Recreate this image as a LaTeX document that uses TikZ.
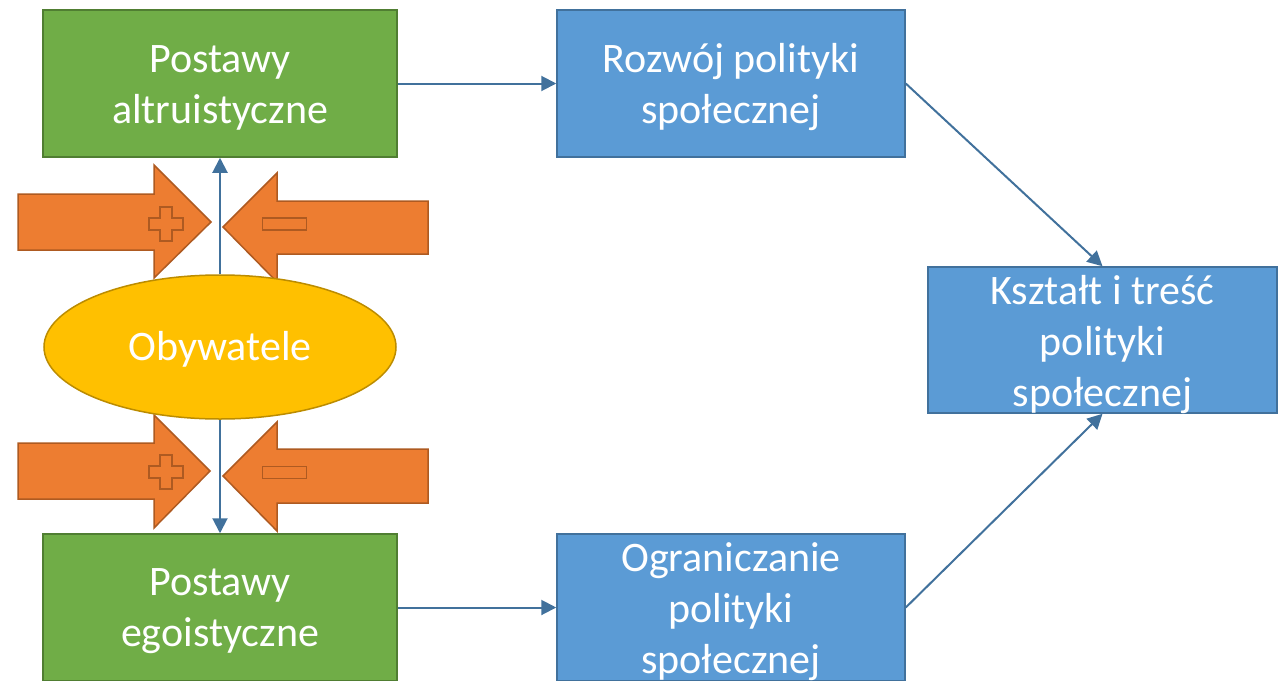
\documentclass[tikz,border=0pt]{standalone}
\usepackage{fontspec}
\setmainfont{Carlito}
\usetikzlibrary{arrows.meta,shapes.geometric}
\definecolor{grn}{HTML}{70AD47}
\definecolor{grnb}{HTML}{507E32}
\definecolor{blu}{HTML}{5B9BD5}
\definecolor{blub}{HTML}{41719C}
\definecolor{yel}{HTML}{FFC000}
\definecolor{yelb}{HTML}{BC8C00}
\definecolor{org}{HTML}{ED7D31}
\definecolor{orgb}{HTML}{AE5A21}
\begin{document}
\begin{tikzpicture}[x=1pt,y=-1pt,
  txt/.style={text=white,align=center,font=\fontsize{42}{51}\selectfont,inner sep=0pt},
  gbox/.style={draw=grnb,fill=grn,line width=1.5pt,minimum width=354pt,minimum height=147pt},
  bbox/.style={draw=blub,fill=blu,line width=1.5pt,minimum width=348pt,minimum height=147pt},
  oval/.style={ellipse,draw=yelb,fill=yel,line width=1.5pt,minimum width=352pt,minimum height=144pt,inner sep=0pt},
  oarrow/.style={draw=orgb,fill=org,line width=1.5pt,line join=miter},
  sign/.style={draw=orgb,fill=org,line width=1.6pt},
  conn/.style={draw=blub,line width=2pt,-{Triangle[length=15pt,width=15pt]}},
  plussign/.pic={\path[sign] (-17,-6) -- (-6,-6) -- (-6,-17) -- (6,-17) -- (6,-6) -- (17,-6) -- (17,6) -- (6,6) -- (6,17) -- (-6,17) -- (-6,6) -- (-17,6) -- cycle;},
  minussign/.pic={\path[sign] (-22,-6) rectangle (22,6);}
]
\useasboundingbox (0,0) rectangle (1281,680);
\clip (0,0) rectangle (1281,680);

% orange arrows (top)
\path[oarrow] (18,194) -- (154,194) -- (154,165) -- (211,222) -- (154,278) -- (154,250) -- (18,250) -- cycle;
\path[oarrow] (428,201) -- (277,201) -- (277,173) -- (223,227) -- (277,282) -- (277,254) -- (428,254) -- cycle;
\pic at (166,224) {plussign};
\pic at (284.5,224) {minussign};
% orange arrows (bottom)
\path[oarrow] (18,443) -- (154,443) -- (154,415) -- (210,471) -- (154,528) -- (154,499) -- (18,499) -- cycle;
\path[oarrow] (428,449) -- (277,449) -- (277,422) -- (223,476) -- (277,531) -- (277,503) -- (428,503) -- cycle;
\pic at (166,472) {plussign};
\pic at (284.5,472.5) {minussign};

% nodes
\node[gbox] (alt) at (220,83.5) {};
\node[gbox] (ego) at (220,607.5) {};
\node[bbox] (roz) at (731,83.5) {};
\node[bbox] (ogr) at (731,607.5) {};
\node[bbox,minimum width=349pt,minimum height=146pt] (ksz) at (1102.5,340) {};
\node[oval] (oby) at (220,347) {};

\node[txt] (altT) at ([yshift=-4pt]alt.center) {Postawy\\altruistyczne};
\node[txt] (egoT) at ([yshift=-4pt]ego.center) {Postawy\\egoistyczne};
\node[txt] (rozT) at ([yshift=-4pt]roz.center) {Rozwój polityki\\społecznej};
\node[txt] (ogrT) at ([yshift=-4pt]ogr.center) {Ograniczanie\\polityki\\społecznej};
\node[txt] (kszT) at ([yshift=-5pt]ksz.center) {Kształt i treść\\polityki\\społecznej};
\node[txt] (obyT) at ([yshift=-2.5pt]oby.center) {Obywatele};

% connectors
\draw[conn] (oby.north) -- (alt.south);
\draw[conn] (oby.south) -- (ego.north);
\draw[conn] (alt.east) -- (roz.west);
\draw[conn] (ego.east) -- (ogr.west);
\draw[conn] (roz.east) -- (ksz.north);
\draw[conn] (ogr.east) -- (ksz.south);
\end{tikzpicture}
\end{document}
